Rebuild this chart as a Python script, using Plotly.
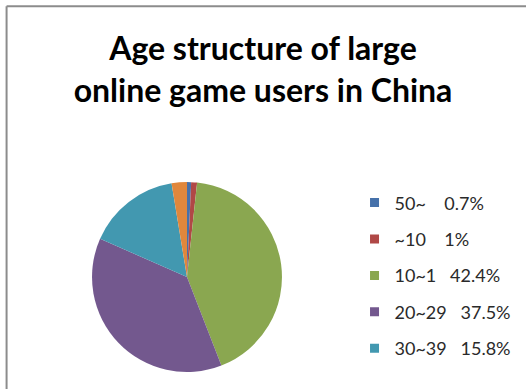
import plotly.graph_objects as go

labels = ["50~", "~10", "10~1", "20~29", "30~39", "40~49"]
values = [0.7, 1.0, 42.4, 37.5, 15.8, 2.6]
legend_text = ["50~\u00a0\u00a0\u00a0\u00a00.7%", "~10\u00a0\u00a0\u00a0\u00a01%", "10~1\u00a0\u00a0\u00a042.4%",
               "20~29\u00a0\u00a0\u00a037.5%", "30~39\u00a0\u00a0\u00a015.8%"]
colors = ["#4671AA", "#B04846", "#8AA750", "#73588E", "#4298B0", "#E0873C"]

fig = go.Figure()
fig.add_trace(go.Pie(
    labels=labels, values=values, sort=False, direction="clockwise", rotation=0,
    marker=dict(colors=colors, line=dict(width=0)),
    textinfo="none", hoverinfo="label+percent", showlegend=False,
    domain=dict(x=[0.1749, 0.5361], y=[0.0437, 0.532]),
))
for i, t in enumerate(legend_text):
    fig.add_trace(go.Scatter(
        x=[None], y=[None], mode="markers", name=t, legendgroup=str(i),
        marker=dict(symbol="square", size=9, color=colors[i]),
    ))

fig.update_layout(
    width=526, height=389, margin=dict(l=0, r=0, t=0, b=0),
    paper_bgcolor="white", plot_bgcolor="white",
    xaxis=dict(visible=False), yaxis=dict(visible=False),
    title=dict(text="<b>Age structure of large<br>online game users in China</b>",
               x=0.5, xanchor="center", y=0.845, yanchor="top",
               font=dict(family="Lato", size=32, color="black")),
    legend=dict(x=0.674, y=0.526, xanchor="left", yanchor="top",
                font=dict(family="Lato", size=18, color="#2a2a2a"),
                traceorder="grouped", tracegroupgap=10, itemwidth=30,
                bgcolor="rgba(0,0,0,0)"),
    shapes=[
        dict(type="line", xref="paper", yref="paper", x0=0.0125, y0=0, x1=0.0125, y1=0.984,
             line=dict(color="#8c8c8c", width=2)),
        dict(type="line", xref="paper", yref="paper", x0=0.0125, y0=0.984, x1=1, y1=0.984,
             line=dict(color="#8c8c8c", width=2)),
    ],
)
fig.write_html("out.html")
